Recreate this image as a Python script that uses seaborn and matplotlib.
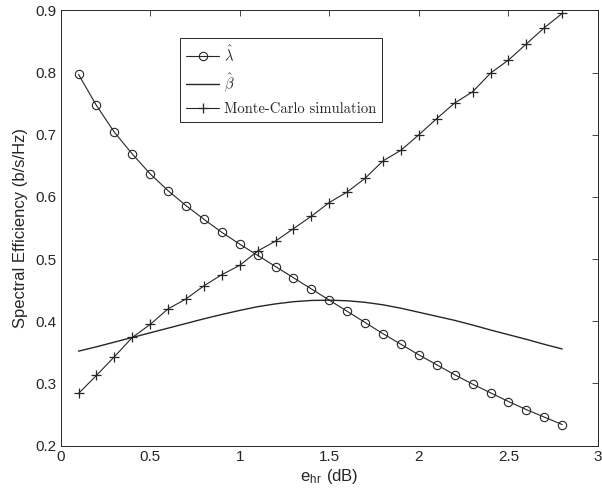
import numpy as np
import pandas as pd
import matplotlib
matplotlib.use("Agg")
import matplotlib.pyplot as plt
import seaborn as sns

# ---- data ----
e_hr = [0.1, 0.2, 0.3, 0.4, 0.5, 0.6, 0.7, 0.8, 0.9, 1.0,
        1.1, 1.2, 1.3, 1.4, 1.5, 1.6, 1.7, 1.8, 1.9, 2.0,
        2.1, 2.2, 2.3, 2.4, 2.5, 2.6, 2.7, 2.8]
lambda_hat = [0.797, 0.747, 0.704, 0.669, 0.637, 0.610, 0.586, 0.564, 0.543, 0.524,
              0.506, 0.488, 0.470, 0.452, 0.434, 0.416, 0.398, 0.380, 0.363, 0.346,
              0.330, 0.314, 0.299, 0.285, 0.271, 0.258, 0.246, 0.234]
beta_hat = [0.352, 0.359, 0.3665, 0.374, 0.3815, 0.389, 0.3965, 0.404, 0.411, 0.4175,
            0.4235, 0.428, 0.4315, 0.4335, 0.434, 0.433, 0.4305, 0.4265, 0.421, 0.4145,
            0.408, 0.4015, 0.394, 0.386, 0.3785, 0.371, 0.363, 0.3555]
monte_carlo = [0.284, 0.313, 0.343, 0.374, 0.395, 0.420, 0.436, 0.457, 0.475, 0.490,
               0.513, 0.529, 0.549, 0.569, 0.591, 0.608, 0.630, 0.658, 0.675, 0.700,
               0.726, 0.751, 0.769, 0.799, 0.820, 0.846, 0.872, 0.895]
series_labels = [r"$\hat{\lambda}$", r"$\hat{\beta}$", "Monte-Carlo simulation"]
x_ticks = [0, 0.5, 1, 1.5, 2, 2.5, 3]
y_ticks = [0.2, 0.3, 0.4, 0.5, 0.6, 0.7, 0.8, 0.9]

sns.set_style("white")
plt.rcParams["font.family"] = ["Liberation Sans", "DejaVu Sans"]
plt.rcParams["mathtext.fontset"] = "cm"
plt.rcParams["xtick.direction"] = "in"
plt.rcParams["ytick.direction"] = "in"

df = pd.DataFrame({"x": e_hr, "lam": lambda_hat, "beta": beta_hat, "mc": monte_carlo})

fig = plt.figure(figsize=(6.02, 5.01), dpi=100)
ax = fig.add_axes([0.1007, 0.1104, 0.8927, 0.869])

col = "#262626"
sns.lineplot(data=df, x="x", y="lam", ax=ax, color=col, lw=0.8, marker="o",
             markersize=6, markerfacecolor="none", markeredgecolor=col,
             markeredgewidth=0.8, label=series_labels[0])
sns.lineplot(data=df, x="x", y="beta", ax=ax, color=col, lw=1.0,
             label=series_labels[1])
sns.lineplot(data=df, x="x", y="mc", ax=ax, color=col, lw=0.8, marker="+",
             markersize=7, markeredgecolor=col, markeredgewidth=0.9,
             label=series_labels[2])

ax.set_xlim(0, 3)
ax.set_ylim(0.2, 0.9)
ax.set_xticks(x_ticks)
ax.set_xticklabels(["0", "0.5", "1", "1.5", "2", "2.5", "3"])
ax.set_yticks(y_ticks)
ax.set_yticklabels(["0.2", "0.3", "0.4", "0.5", "0.6", "0.7", "0.8", "0.9"])
ax.tick_params(axis="both", which="both", direction="in", top=True, right=True,
               length=4, width=0.6, labelsize=11, colors="#262626", pad=3)
for s in ax.spines.values():
    s.set_visible(True)
    s.set_color("#262626")
    s.set_linewidth(0.7)

ax.set_xlabel(r"e$_{\mathregular{hr}}$ (dB)", fontsize=12, color="#262626", labelpad=2)
ax.set_ylabel("Spectral Efficiency (b/s/Hz)", fontsize=12, color="#262626", labelpad=5)

leg = ax.legend(loc="upper left", bbox_to_anchor=(0.222, 0.936), borderaxespad=0,
                frameon=True, fancybox=False, edgecolor="#262626", framealpha=1,
                handlelength=2.3, handletextpad=0.3, borderpad=0.4, labelspacing=0.55,
                prop={"family": ["cmr10", "DejaVu Serif"], "size": 10.5})
leg.get_frame().set_linewidth(0.7)

fig.savefig("out.png", dpi=100)
